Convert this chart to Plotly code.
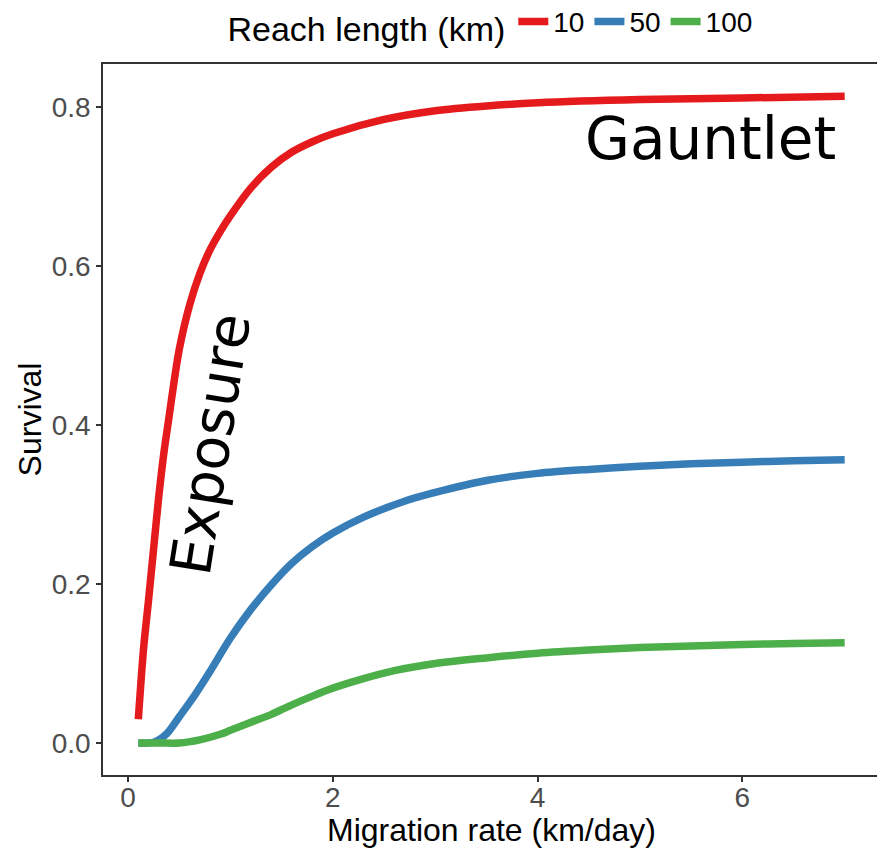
import plotly.graph_objects as go

# Migration rate (km/day) and survival for each reach length
red_x = [0.1, 0.15, 0.2, 0.25, 0.3, 0.35, 0.4, 0.45, 0.5, 0.6, 0.7, 0.8, 0.9, 1.0, 1.2, 1.4, 1.6, 1.8, 2.0, 2.5, 3.0, 3.5, 4.0, 5.0, 6.0, 7.0]
red_y = [0.03, 0.117, 0.18, 0.245, 0.31, 0.365, 0.41, 0.455, 0.495, 0.55, 0.59, 0.62, 0.643, 0.663, 0.698, 0.724, 0.743, 0.756, 0.766, 0.784, 0.795, 0.801, 0.805, 0.809, 0.811, 0.813]

blue_x = [0.1, 0.25, 0.38, 0.5, 0.65, 0.8, 1.0, 1.2, 1.4, 1.6, 1.8, 2.0, 2.3, 2.7, 3.0, 3.5, 4.0, 4.5, 5.0, 5.5, 6.0, 6.5, 7.0]
blue_y = [0.0, 0.001, 0.012, 0.033, 0.06, 0.09, 0.132, 0.168, 0.199, 0.226, 0.247, 0.264, 0.284, 0.304, 0.315, 0.330, 0.339, 0.344, 0.348, 0.351, 0.353, 0.355, 0.356]

green_x = [0.1, 0.3, 0.5, 0.7, 0.9, 1.0, 1.2, 1.4, 1.6, 1.8, 2.0, 2.3, 2.6, 3.0, 3.5, 4.0, 4.5, 5.0, 5.5, 6.0, 6.5, 7.0]
green_y = [0.0, 0.0, 0.0, 0.004, 0.011, 0.016, 0.026, 0.036, 0.048, 0.059, 0.069, 0.081, 0.091, 0.100, 0.107, 0.113, 0.117, 0.120, 0.122, 0.124, 0.125, 0.126]

series_names = ["10", "50", "100"]
series_colors = ["#E41A1C", "#377EB8", "#4DAF4A"]

x_ticks = [0, 2, 4, 6]
y_ticks = [0.0, 0.2, 0.4, 0.6, 0.8]
y_tick_labels = ["0.0", "0.2", "0.4", "0.6", "0.8"]

fig = go.Figure()
for xs, ys, name, col in [(red_x, red_y, series_names[0], series_colors[0]),
                          (blue_x, blue_y, series_names[1], series_colors[1]),
                          (green_x, green_y, series_names[2], series_colors[2])]:
    fig.add_trace(go.Scatter(x=xs, y=ys, mode="lines", name=name,
                             line=dict(color=col, width=7.5, shape="spline", smoothing=0.8)))

fig.add_annotation(x=5.69, y=0.759, text="Gauntlet", showarrow=False,
                   font=dict(family="DejaVu Sans", size=58, color="black"))
fig.add_annotation(x=0.80, y=0.376, text="Exposure", showarrow=False, textangle=-81,
                   font=dict(family="DejaVu Sans", size=57, color="black"))

axis_common = dict(showline=True, linecolor="#333333", linewidth=1.5, mirror=True,
                   ticks="outside", ticklen=5, tickcolor="#333333", tickwidth=1.5,
                   showgrid=False, zeroline=False, automargin=False,
                   tickfont=dict(family="Liberation Sans, Arial", size=28, color="#4D4D4D"),
                   title_font=dict(family="Liberation Sans, Arial", size=32, color="black"))

fig.update_layout(
    width=877, height=840,
    paper_bgcolor="white", plot_bgcolor="white",
    margin=dict(l=95, r=5, t=56, b=73, autoexpand=False),
    showlegend=True,
    legend=dict(orientation="h", x=0.5, xanchor="center", y=1.056, yanchor="middle",
                title=dict(text="Reach length (km)", side="left"),
                font=dict(family="Liberation Sans, Arial", size=28, color="black"),
                itemwidth=30, tracegroupgap=0),
    xaxis=dict(range=[-0.245, 7.345], tickvals=x_ticks, ticktext=[str(t) for t in x_ticks],
               ticklabelstandoff=-8,
               title=dict(text="Migration rate (km/day)", standoff=16), **axis_common),
    yaxis=dict(range=[-0.0402, 0.8537], tickvals=y_ticks, ticktext=y_tick_labels,
               title=dict(text="Survival", standoff=1), **axis_common),
)

fig.write_html("out.html")
